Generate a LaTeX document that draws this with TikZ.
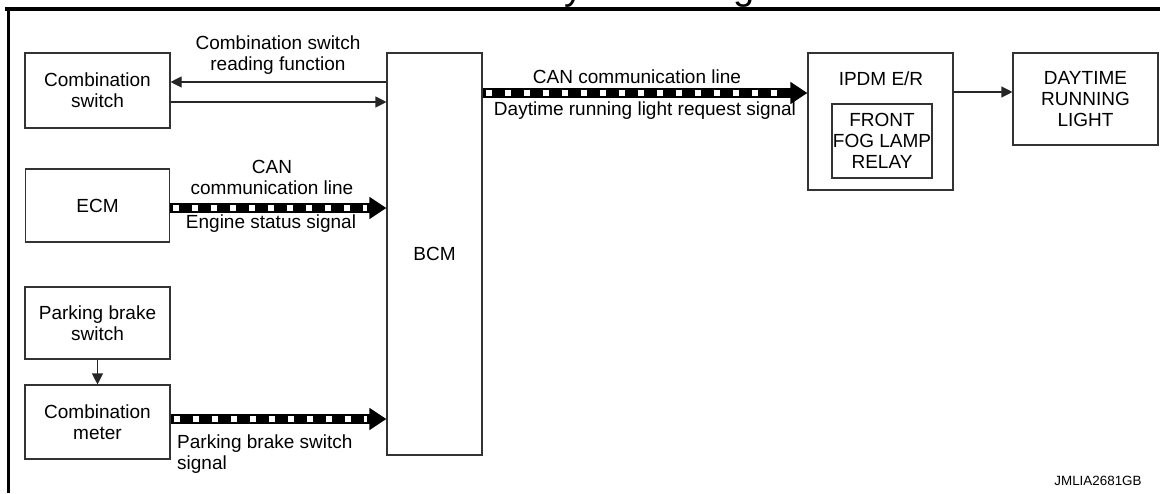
\documentclass[tikz,border=0pt]{standalone}
\usepackage{fontspec}
\setmainfont{Liberation Sans}
\usetikzlibrary{arrows.meta}
\newcommand\lblfont{\fontsize{19}{21}\selectfont}
\begin{document}
\begin{tikzpicture}[x=1pt,y=-1pt,
  box/.style={draw=black!80, line width=1.1pt, align=center, inner sep=0pt, font=\lblfont},
  lab/.style={align=center, inner sep=0pt, font=\lblfont},
  thinarrow/.style={draw=black!85, line width=1.1pt, -{Triangle[length=11pt,width=11pt]}},
  canline/.style={line width=9.5pt, -{Triangle[length=17pt,width=21pt]},
     postaction={draw=white, line width=5.5pt, -, dash pattern=on 6pt off 13pt, shorten <=3pt, shorten >=19pt}}]
\useasboundingbox (0,0) rectangle (1160,493);
% frame and clipped title
\node[anchor=base, font=\fontsize{38}{40}\selectfont, inner sep=0pt] (title) at (680,-1) {System Diagram};
\draw[line width=3.5pt] (5,9) -- (1160,9);
\draw[line width=3pt] (8,9) -- (8,493);
% boxes
\node[box, minimum width=145pt, minimum height=75pt] (cs) at (97.5,90.5) {Combination\\switch};
\node[box, minimum width=144pt, minimum height=73pt] (ecm) at (97.5,205.5) {ECM};
\node[box, minimum width=145pt, minimum height=72pt] (pbs) at (97.5,323) {Parking brake\\switch};
\node[box, minimum width=145pt, minimum height=74pt] (cm) at (97.5,422) {Combination\\meter};
\node[box, minimum width=95pt, minimum height=402pt] (bcm) at (434.5,254) {BCM};
\node[box, minimum width=145pt, minimum height=137pt] (ipdm) at (880.5,121.5) {};
\node[lab] (ipdmlab) at (881,79) {IPDM E/R};
\node[box, minimum width=100pt, minimum height=74pt] (relay) at (882,141) {FRONT\\FOG LAMP\\RELAY};
\node[box, minimum width=145pt, minimum height=92pt] (drl) at (1085.5,99) {DAYTIME\\RUNNING\\LIGHT};
% labels
\node[lab] (l1) at (278,55) {Combination switch\\reading function};
\node[lab] (l2) at (272,177.5) {CAN\\communication line};
\node[lab] (l3) at (271,224) {Engine status signal};
\node[lab, anchor=west, align=left] (l4) at (177,454) {Parking brake switch\\signal};
\node[lab] (l5) at (637,77) {CAN communication line};
\node[lab] (l6) at (645,111) {Daytime running light request signal};
\node[inner sep=0pt, font=\fontsize{13.4}{15}\selectfont] (code) at (1098,481) {JMLIA2681GB};
% connectors
\draw[thinarrow] (bcm.west |- 0,82) -- (cs.east |- 0,82);
\draw[thinarrow] (cs.east |- 0,102) -- (bcm.west |- 0,102);
\draw[canline] (ecm.east |- 0,208) -- (bcm.west |- 0,208);
\draw[canline] (cm.east |- 0,419) -- (bcm.west |- 0,419);
\draw[thinarrow] (pbs.south) -- (cm.north);
\draw[canline] (bcm.east |- 0,93) -- (ipdm.west |- 0,93);
\draw[thinarrow] (ipdm.east |- 0,92) -- (drl.west |- 0,92);
\end{tikzpicture}
\end{document}
